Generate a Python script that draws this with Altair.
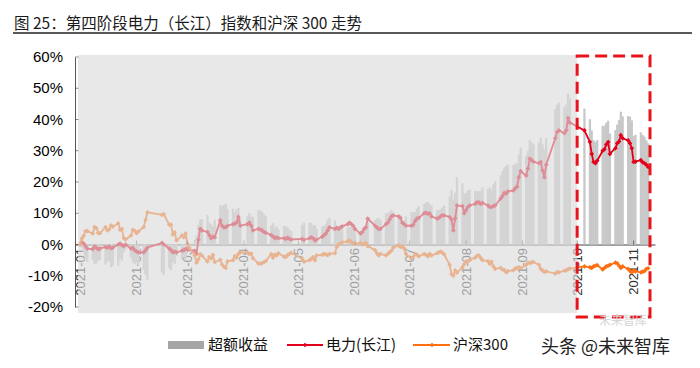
import altair as alt
import pandas as pd

title_text = "图 25：第四阶段电力（长江）指数和沪深 300 走势"
series_names = ["超额收益", "电力(长江)", "沪深300"]
watermark_text = "头条 @未来智库"
watermark_logo = "未来智库"

# Chinese exchange holidays (weekdays) in the period
holidays = ["2021-02-11", "2021-02-12", "2021-02-15", "2021-02-16", "2021-02-17",
            "2021-04-05", "2021-05-03", "2021-05-04", "2021-05-05", "2021-06-14",
            "2021-09-20", "2021-09-21", "2021-10-01", "2021-10-04", "2021-10-05",
            "2021-10-06", "2021-10-07"]
trading_days = [d for d in pd.bdate_range("2021-01-04", "2021-11-12")
                if d.strftime("%Y-%m-%d") not in holidays]

# 电力(长江) cumulative return, % (one value per trading day, by month)
power_jan = [0.0, 0.8, 0.3, -0.5, -1.3, -1.5, -0.6, -1.0, -1.6, -1.3, -0.8, -1.0, -0.6, -1.2, -1.0, 0.0, 0.3, -0.2, -0.5, 0.0]
power_feb = [-1.3, -1.0, -1.8, -2.2, -2.5, -2.5, -1.8, -1.0, 0.5, 0.0, -1.3, -1.8, -2.5, -2.3, -2.5]
power_mar = [-2.0, -1.8, -1.5, -1.3, -1.6, -2.0, -3.0, 1.5, 5.0, 4.5, 4.0, 3.0, 2.0, 2.5, 2.3, 7.7, 6.0, 5.5, 5.5, 6.0, 6.5, 6.7, 7.0]
power_apr = [8.8, 6.0, 6.5, 7.0, 6.0, 4.5, 5.0, 4.8, 4.5, 4.0, 3.8, 3.0, 2.6, 2.0, 2.3, 2.0, 2.0, 1.8, 2.2, 1.8, 1.6]
power_may = [1.8, 1.5, 2.0, 2.3, 2.0, 1.3, 1.6, 2.5, 3.0, 3.5, 4.5, 5.5, 5.0, 5.3, 5.0, 5.5, 5.8, 6.5]
power_jun = [7.0, 6.5, 6.0, 5.0, 3.5, 4.0, 5.0, 5.5, 8.3, 6.0, 5.5, 5.0, 5.0, 6.5, 7.0, 8.0, 9.0, 9.3, 9.0, 8.5, 7.0]
power_jul = [6.5, 6.0, 6.0, 6.3, 7.5, 8.3, 8.5, 10.0, 10.2, 9.8, 10.0, 9.0, 8.3, 8.5, 9.0, 9.3, 9.3, 8.8, 8.0, 4.5, 8.3, 12.5]
power_aug = [12.3, 10.0, 11.0, 12.0, 12.5, 13.0, 13.5, 13.5, 13.0, 13.3, 12.5, 12.0, 12.0, 12.3, 12.5, 14.7, 15.5, 16.5, 16.3, 17.0, 17.3, 18.0]
power_sep = [18.5, 21.5, 23.5, 22.0, 24.3, 27.5, 27.0, 26.5, 26.0, 26.4, 23.7, 21.5, 25.5, 34.0, 36.0, 36.5, 35.6, 36.5, 40.4, 39.0]
power_oct = [36.5, 32.8, 29.0, 26.4, 26.0, 26.8, 30.0, 30.5, 32.0, 32.8, 29.0, 30.8, 32.4, 33.0, 35.0, 34.0]
power_nov = [33.3, 32.4, 30.8, 26.4, 26.5, 27.0, 26.3, 26.0, 25.5, 24.8]

# 沪深300 cumulative return, %
csi_jan = [0.0, 1.9, 2.8, 4.3, 4.3, 3.5, 5.6, 5.2, 3.7, 3.6, 5.6, 4.5, 4.8, 6.1, 5.7, 6.8, 4.7, 5.0, 2.1, 1.6]
csi_feb = [2.9, 4.7, 4.4, 3.6, 4.1, 5.6, 7.9, 10.3, 9.5, 9.7, 6.3, 6.4, 3.2, 3.9, 1.3]
csi_mar = [2.9, 2.3, 3.5, 0.3, -1.0, -3.5, -5.8, -4.8, -3.1, -3.6, -5.4, -4.0, -4.5, -3.3, -5.6, -4.9, -6.4, -7.1, -7.5, -5.4, -5.0, -3.7, -4.2]
csi_apr = [-3.0, -2.5, -2.6, -3.1, -2.9, -4.4, -6.1, -6.1, -6.0, -5.6, -5.3, -3.1, -4.2, -3.2, -3.5, -2.8, -3.9, -4.0, -3.4, -3.0, -2.7]
csi_may = [-4.5, -5.5, -5.0, -4.6, -4.0, -5.0, -3.5, -3.3, -3.0, -3.2, -3.4, -3.0, -2.8, -0.8, 0.0, 0.3, 0.7, 1.0]
csi_jun = [1.3, 0.8, 0.3, 0.2, 0.5, 0.0, 0.2, 0.5, -0.5, -1.8, -2.8, -3.5, -3.0, -3.5, -3.0, -2.5, -2.0, -1.0, -0.3, -0.8, -0.5]
csi_jul = [-1.3, -3.0, -4.5, -4.0, -3.0, -3.2, -3.8, -3.0, -3.3, -3.8, -3.0, -3.5, -2.8, -2.5, -2.3, -2.6, -3.2, -6.5, -9.5, -10.0, -8.3, -9.0]
csi_aug = [-7.3, -6.3, -5.5, -5.3, -5.0, -4.2, -3.6, -3.5, -4.3, -5.0, -5.3, -6.2, -5.5, -7.0, -7.8, -7.5, -8.0, -8.2, -8.9, -8.5, -8.2, -7.7]
csi_sep = [-7.5, -7.3, -7.6, -6.5, -5.8, -6.0, -5.7, -5.6, -6.5, -7.8, -8.3, -8.8, -8.6, -9.3, -8.8, -8.9, -8.4, -8.3, -7.9, -7.7]
csi_oct = [-7.0, -7.3, -7.5, -7.0, -6.8, -6.6, -8.0, -7.5, -7.0, -6.8, -6.5, -5.8, -6.0, -6.8, -7.5, -7.0]
csi_nov = [-7.8, -8.5, -8.9, -8.3, -8.6, -8.9, -8.7, -8.5, -7.8, -7.6]

power = (power_jan + power_feb + power_mar + power_apr + power_may + power_jun
         + power_jul + power_aug + power_sep + power_oct + power_nov)
csi300 = (csi_jan + csi_feb + csi_mar + csi_apr + csi_may + csi_jun
          + csi_jul + csi_aug + csi_sep + csi_oct + csi_nov)
# 超额收益 = 电力(长江) - 沪深300
excess = [round(p - c, 1) for p, c in zip(power, csi300)]
assert len(power) == len(csi300) == len(trading_days)

df = pd.DataFrame({"date": trading_days, "power": power, "csi": csi300, "excess": excess})

tick_dates = pd.to_datetime(["2021-02-04", "2021-03-04", "2021-04-04", "2021-05-04", "2021-06-04",
                             "2021-07-04", "2021-08-04", "2021-09-04", "2021-10-04", "2021-11-04"])
y_ticks = [-20, -10, 0, 10, 20, 30, 40, 50, 60]
y_tick_labels = ["-20%", "-10%", "0%", "10%", "20%", "30%", "40%", "50%", "60%"]
highlight_start = pd.Timestamp("2021-10-04")
axis_start = pd.Timestamp("2021-01-04")
axis_end = pd.Timestamp("2021-11-13")

W, H = 580, 250
RED = "#e3001b"
ORANGE = "#ff6e10"
BAR = "#c8c8c8"
CJK = "Noto Sans CJK SC"
LAT = "Liberation Sans"

x_scale = alt.Scale(domain=[alt.DateTime(year=2021, month=1, date=4),
                            alt.DateTime(year=2021, month=11, date=13)])
y_scale = alt.Scale(domain=[-20, 60], nice=False, zero=False)

x_axis = alt.Axis(values=[alt.DateTime(year=2021, month=m, date=4) for m in range(1, 12)],
                  format="%Y-%m", labelAngle=270, labelFontSize=13, labelColor="#333333",
                  labelFont=LAT, labelPadding=3, ticks=False, domainColor="#404040",
                  offset=-62.5, grid=False, title=None, labelOverlap=False,
                  labelFlush=False, zindex=0)
y_axis = alt.Axis(values=y_ticks, labels=False, ticks=False,
                  domainColor="#555555", grid=False, title=None, zindex=0)


def X(field):
    return alt.X(field, scale=x_scale, axis=x_axis)


def Y(field):
    return alt.Y(field, scale=y_scale, axis=y_axis)


base = alt.Chart(df)
bars = base.mark_bar(color=BAR, width=2.3).encode(x=X("date:T"), y=Y("excess:Q"))
red_line = base.mark_line(
    color=RED, strokeWidth=1.8,
    point=alt.OverlayMarkDef(filled=True, shape="diamond", size=22, color=RED),
).encode(x=X("date:T"), y=Y("power:Q"))
orange_line = base.mark_line(
    color=ORANGE, strokeWidth=1.8,
    point=alt.OverlayMarkDef(filled=True, shape="diamond", size=22, color=ORANGE),
).encode(x=X("date:T"), y=Y("csi:Q"))

xticks = alt.Chart(pd.DataFrame({"d": tick_dates, "z": [0] * len(tick_dates)})).mark_tick(
    orient="vertical", size=4, thickness=1, color="#404040", yOffset=-2
).encode(x=X("d:T"), y=Y("z:Q"))

ytick_df = pd.DataFrame({"v": y_ticks, "lab": y_tick_labels})
yticks = alt.Chart(ytick_df).mark_tick(
    orient="horizontal", size=4, thickness=1, color="#555555", xOffset=2
).encode(x=alt.value(0), y=Y("v:Q"))
ylabels = alt.Chart(ytick_df).mark_text(
    align="right", baseline="middle", fontSize=15, font=LAT, color="#000000"
).encode(x=alt.value(-12), y=Y("v:Q"), text="lab:N")

overlay = alt.Chart(pd.DataFrame({"s": [axis_start], "e": [highlight_start]})).mark_rect(
    color="#dbdbdb", opacity=0.64, xOffset=-2
).encode(x=X("s:T"), x2="e:T", y=alt.value(-2), y2=alt.value(H + 6))

box = alt.Chart(pd.DataFrame({"s": [highlight_start], "e": [axis_end]})).mark_rect(
    fillOpacity=0, stroke="#e8141c", strokeWidth=3, strokeDash=[12, 6]
).encode(x=X("s:T"), x2="e:T", y=alt.value(-1), y2=alt.value(H + 10))

one = pd.DataFrame({"k": [0]})

title = alt.Chart(pd.DataFrame({"t": [title_text]})).mark_text(
    align="left", baseline="middle", fontSize=15.5, font=CJK, color="#1a1a1a"
).encode(x=alt.value(-61), y=alt.value(-33), text="t:N")
underline = alt.Chart(one).mark_rule(color="#222222", strokeWidth=1.5).encode(
    x=alt.value(-62), x2=alt.value(625), y=alt.value(-24))

leg_y = 288
swatch = alt.Chart(one).mark_rect(color="#a6a6a6").encode(
    x=alt.value(93), x2=alt.value(129), y=alt.value(leg_y - 4), y2=alt.value(leg_y + 4))
leg_red_line = alt.Chart(one).mark_rule(color=RED, strokeWidth=2).encode(
    x=alt.value(212), x2=alt.value(248), y=alt.value(leg_y))
leg_red_pt = alt.Chart(one).mark_point(color=RED, filled=True, shape="diamond", size=22, opacity=1).encode(
    x=alt.value(230), y=alt.value(leg_y))
leg_or_line = alt.Chart(one).mark_rule(color=ORANGE, strokeWidth=2).encode(
    x=alt.value(338), x2=alt.value(375), y=alt.value(leg_y))
leg_or_pt = alt.Chart(one).mark_point(color=ORANGE, filled=True, shape="diamond", size=22, opacity=1).encode(
    x=alt.value(357), y=alt.value(leg_y))
leg_t0 = alt.Chart(pd.DataFrame({"t": [series_names[0]]})).mark_text(
    align="left", baseline="middle", fontSize=15, font=CJK, color="#111111"
).encode(x=alt.value(133), y=alt.value(leg_y), text="t:N")
leg_t1 = alt.Chart(pd.DataFrame({"t": [series_names[1]]})).mark_text(
    align="left", baseline="middle", fontSize=15, font=CJK, color="#111111"
).encode(x=alt.value(251), y=alt.value(leg_y), text="t:N")
leg_t2 = alt.Chart(pd.DataFrame({"t": [series_names[2]]})).mark_text(
    align="left", baseline="middle", fontSize=15, font=CJK, color="#111111"
).encode(x=alt.value(378), y=alt.value(leg_y), text="t:N")

logo = alt.Chart(pd.DataFrame({"t": [watermark_logo]})).mark_text(
    align="left", baseline="middle", fontSize=12, font=CJK, color="#d4d4d4"
).encode(x=alt.value(524), y=alt.value(264), text="t:N")
wm = alt.Chart(pd.DataFrame({"t": [watermark_text]})).mark_text(
    align="left", baseline="middle", fontSize=18, font=CJK, color="#222222"
).encode(x=alt.value(466), y=alt.value(291), text="t:N")

chart = alt.layer(
    bars, red_line, orange_line, xticks, yticks, overlay, box, ylabels,
    title, underline, swatch, leg_red_line, leg_red_pt, leg_or_line, leg_or_pt,
    leg_t0, leg_t1, leg_t2, logo, wm,
).properties(
    width=W, height=H,
    padding={"left": 67, "top": 49, "right": 37, "bottom": 57},
    autosize=alt.AutoSizeParams(type="none"),
    background="white",
).configure_view(stroke=None)

chart.save("out.html", embed_options={"renderer": "svg", "actions": False})
